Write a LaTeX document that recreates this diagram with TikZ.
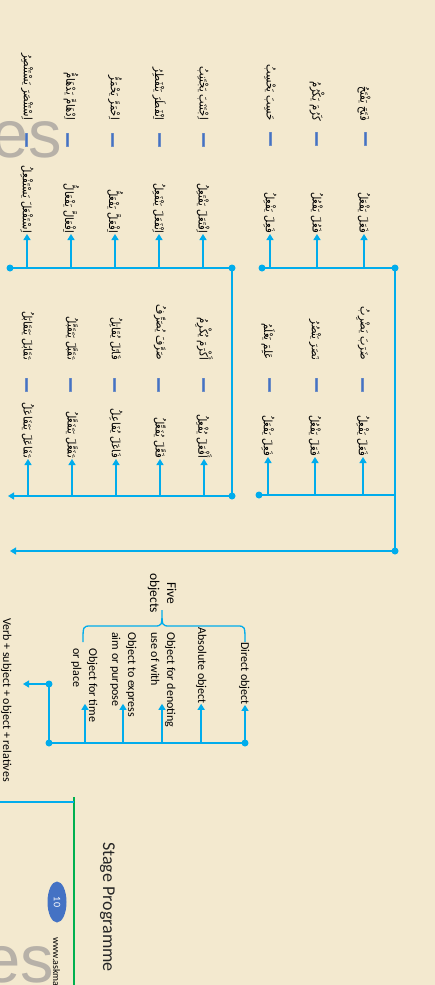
\documentclass[tikz,border=0pt]{standalone}
\usepackage{fontspec}
\setmainfont{Carlito}
\newfontfamily\arabicfont[Script=Arabic, FakeStretch=0.87]{DejaVu Sans}
\newfontfamily\dashfont[FakeBold=2.5]{DejaVu Sans}
\newfontfamily\wmfont{Liberation Sans}
\TeXXeTstate=1
\usetikzlibrary{arrows.meta,shapes.geometric}

\definecolor{paper}{RGB}{243,233,207}
\definecolor{link}{RGB}{0,172,236}
\definecolor{dashblue}{RGB}{68,114,196}
\definecolor{wmgray}{RGB}{183,177,168}
\definecolor{rulegreen}{RGB}{0,176,80}

\newcommand{\artxt}[1]{\beginR #1\endR}

\tikzset{
  wire/.style={draw=link, line width=1.3pt},
  wazn/.style={rotate=-90, anchor=east, inner sep=1pt, font=\arabicfont\fontsize{11.5}{13}\selectfont},
  mithal/.style={wazn},
  dashbar/.style={rotate=-90, inner sep=0pt, text=dashblue, font=\dashfont\bfseries\fontsize{15}{15}\selectfont},
  objtxt/.style={rotate=-90, anchor=base west, inner sep=0pt, align=left, font=\fontsize{12}{16}\selectfont},
  wmark/.style={anchor=base west, inner sep=0pt, text=wmgray, font=\wmfont\fontsize{67}{67}\selectfont},
}

\begin{document}
\begin{tikzpicture}[x=1pt, y=-1pt, >={Triangle[width=7pt,length=6pt]}]
    \useasboundingbox (0,0) rectangle (435,985);
    \fill[paper] (0,0) rectangle (435,985);
    \begin{scope}
        \clip (0,0) rectangle (435,985);
        \node[wmark] (es1) at (-9,157) {es};
        \node[wmark] (es2) at (-17,982) {es};
    \end{scope}

    \coordinate (A1) at (10,268);
    \coordinate (A2) at (232,268);
    \coordinate (B1) at (262,268);
    \coordinate (B2) at (395,268);
    \coordinate (C1) at (232,496);
    \coordinate (C0) at (8,496);
    \coordinate (D1) at (259,495);
    \coordinate (D2) at (395,495);
    \coordinate (E1) at (395,551);
    \coordinate (E0) at (10,551);
    \coordinate (F1) at (49,743);
    \coordinate (F2) at (245,743);
    \coordinate (F3) at (49,684);
    \coordinate (F0) at (23,684);

    \node[wazn] (w1) at (27,234) {\artxt{اِسْتَفْعَلَ يَسْتَفْعِلُ}};
    \node[dashbar] (d1) at (25,140) {—};
    \node[mithal] (m1) at (27,121) {\artxt{اِسْتَنْصَرَ يَسْتَنْصِرُ}};
    \node[wazn] (w2) at (71,234) {\artxt{اِفْعَالَّ يَفْعَالُّ}};
    \node[dashbar] (d2) at (66,140) {—};
    \node[mithal] (m2) at (71,121) {\artxt{اِدْهَامَّ يَدْهَامُّ}};
    \node[wazn] (w3) at (115,234) {\artxt{اِفْعَلَّ يَفْعَلُّ}};
    \node[dashbar] (d3) at (111,140) {—};
    \node[mithal] (m3) at (115,121) {\artxt{اِحْمَرَّ يَحْمَرُّ}};
    \node[wazn] (w4) at (159,234) {\artxt{اِنْفَعَلَ يَنْفَعِلُ}};
    \node[dashbar] (d4) at (158,140) {—};
    \node[mithal] (m4) at (159,121) {\artxt{اِنْفَطَرَ يَنْفَطِرُ}};
    \node[wazn] (w5) at (203,234) {\artxt{اِفْتَعَلَ يَفْتَعِلُ}};
    \node[dashbar] (d5) at (202,140) {—};
    \node[mithal] (m5) at (203,121) {\artxt{اِجْتَنَبَ يَجْتَنِبُ}};

    \node[wazn] (w6) at (270,234) {\artxt{فَعِلَ يَفْعِلُ}};
    \node[dashbar] (d6) at (269,139) {—};
    \node[mithal] (m6) at (270,122) {\artxt{حَسِبَ يَحْسِبُ}};
    \node[wazn] (w7) at (317,234) {\artxt{فَعُلَ يَفْعُلُ}};
    \node[dashbar] (d7) at (315,139) {—};
    \node[mithal] (m7) at (317,122) {\artxt{كَرُمَ يَكْرُمُ}};
    \node[wazn] (w8) at (364,234) {\artxt{فَعَلَ يَفْعَلُ}};
    \node[dashbar] (d8) at (364,139) {—};
    \node[mithal] (m8) at (364,122) {\artxt{فَتَحَ يَفْتَحُ}};

    \node[wazn] (w9) at (28,459) {\artxt{تَفَاعَلَ يَتَفَاعَلُ}};
    \node[dashbar] (d9) at (25,385) {—};
    \node[mithal] (m9) at (28,361) {\artxt{تَقَابَلَ يَتَقَابَلُ}};
    \node[wazn] (w10) at (72,459) {\artxt{تَفَعَّلَ يَتَفَعَّلُ}};
    \node[dashbar] (d10) at (69,385) {—};
    \node[mithal] (m10) at (72,361) {\artxt{تَقَبَّلَ يَتَقَبَّلُ}};
    \node[wazn] (w11) at (116,459) {\artxt{فَاعَلَ يُفَاعِلُ}};
    \node[dashbar] (d11) at (113,385) {—};
    \node[mithal] (m11) at (116,361) {\artxt{قَاتَلَ يُقَاتِلُ}};
    \node[wazn] (w12) at (160,459) {\artxt{فَعَّلَ يُفَعِّلُ}};
    \node[dashbar] (d12) at (157,385) {—};
    \node[mithal] (m12) at (160,361) {\artxt{صَرَّفَ يُصَرِّفُ}};
    \node[wazn] (w13) at (204,459) {\artxt{أَفْعَلَ يُفْعِلُ}};
    \node[dashbar] (d13) at (202,385) {—};
    \node[mithal] (m13) at (204,361) {\artxt{أَكْرَمَ يُكْرِمُ}};

    \node[wazn] (w14) at (268,457) {\artxt{فَعِلَ يَفْعَلُ}};
    \node[dashbar] (d14) at (268,385) {—};
    \node[mithal] (m14) at (268,361) {\artxt{عَلِمَ يَعْلَمُ}};
    \node[wazn] (w15) at (315,457) {\artxt{فَعَلَ يَفْعُلُ}};
    \node[dashbar] (d15) at (315,385) {—};
    \node[mithal] (m15) at (315,361) {\artxt{نَصَرَ يَنْصُرُ}};
    \node[wazn] (w16) at (363,457) {\artxt{فَعَلَ يَفْعِلُ}};
    \node[dashbar] (d16) at (361,385) {—};
    \node[mithal] (m16) at (363,361) {\artxt{ضَرَبَ يَضْرِبُ}};

    \draw[wire] (A1) -- (A2) -- (C1);
    \draw[wire] (B1) -- (B2) -- (E1);
    \draw[wire] (D1) -- (D2);
    \draw[wire, ->] (C1) -- (C0);
    \draw[wire, ->] (E1) -- (E0);
    \draw[wire, ->] (w1.east |- A1) -- (w1.east);
    \draw[wire, ->] (w2.east |- A1) -- (w2.east);
    \draw[wire, ->] (w3.east |- A1) -- (w3.east);
    \draw[wire, ->] (w4.east |- A1) -- (w4.east);
    \draw[wire, ->] (w5.east |- A1) -- (w5.east);
    \draw[wire, ->] (w6.east |- B1) -- (w6.east);
    \draw[wire, ->] (w7.east |- B1) -- (w7.east);
    \draw[wire, ->] (w8.east |- B1) -- (w8.east);
    \draw[wire, ->] (w9.east |- C1) -- (w9.east);
    \draw[wire, ->] (w10.east |- C1) -- (w10.east);
    \draw[wire, ->] (w11.east |- C1) -- (w11.east);
    \draw[wire, ->] (w12.east |- C1) -- (w12.east);
    \draw[wire, ->] (w13.east |- C1) -- (w13.east);
    \draw[wire, ->] (w14.east |- D1) -- (w14.east);
    \draw[wire, ->] (w15.east |- D1) -- (w15.east);
    \draw[wire, ->] (w16.east |- D1) -- (w16.east);

    \node[objtxt, align=center, font=\fontsize{13.5}{17}\selectfont] (five) at (150,573) {Five\\objects};
    \draw[wire] (83,642) .. controls (83,626) .. (91,626) -- (154,626)
        .. controls (162,626) .. (162,610) .. controls (162,626) .. (170,626)
        -- (237,626) .. controls (245,626) .. (245,642);
    \node[objtxt] (o1) at (241,642) {Direct object};
    \node[objtxt] (o2) at (198,627) {Absolute object};
    \node[objtxt] (o3) at (151,632) {Object for denoting\\use of with};
    \node[objtxt] (o4) at (112,632) {Object to express\\aim or purpose};
    \node[objtxt] (o5) at (73,648) {Object for time\\or place};
    \node[objtxt] (verb) at (3,618) {Verb + subject + object + relatives};

    \draw[wire] (F2) -- (F1) -- (F3);
    \draw[wire, ->] (F3) -- (F0);
    \draw[wire, ->] (F2) -- (F2 |- o1.east);
    \draw[wire, ->] (o2.east |- F1) -- (o2.east);
    \draw[wire, ->] (F1 -| 162,0) -- (162,0 |- o2.east);
    \draw[wire, ->] (F1 -| 123,0) -- (123,0 |- o2.east);
    \draw[wire, ->] (F1 -| 85,0) -- (85,0 |- o2.east);

    \fill[link] (A1) circle (3.5pt) (A2) circle (3.5pt) (B1) circle (3.5pt)
        (B2) circle (3.5pt) (C1) circle (3.5pt) (D1) circle (3.5pt)
        (E1) circle (3.5pt) (F1) circle (3.5pt) (F2) circle (3.5pt)
        (F3) circle (3.5pt);

    \draw[draw=rulegreen, line width=2.5pt] (74,797) -- (74,985);
    \draw[wire, line width=2pt] (0,802) -- (74,802);
    \node[objtxt, font=\fontsize{18}{18}\selectfont, text=black!85] (stage) at (103,842) {Stage Programme};
    \node[ellipse, rotate=-90, fill=dashblue, minimum width=41pt, minimum height=19pt,
        inner sep=0pt, text=white, font=\fontsize{10}{10}\selectfont] (page) at (57,902) {10};
    \node[objtxt, font=\fontsize{10}{10}\selectfont] (web) at (53,937) {www.askma};
\end{tikzpicture}
\end{document}
